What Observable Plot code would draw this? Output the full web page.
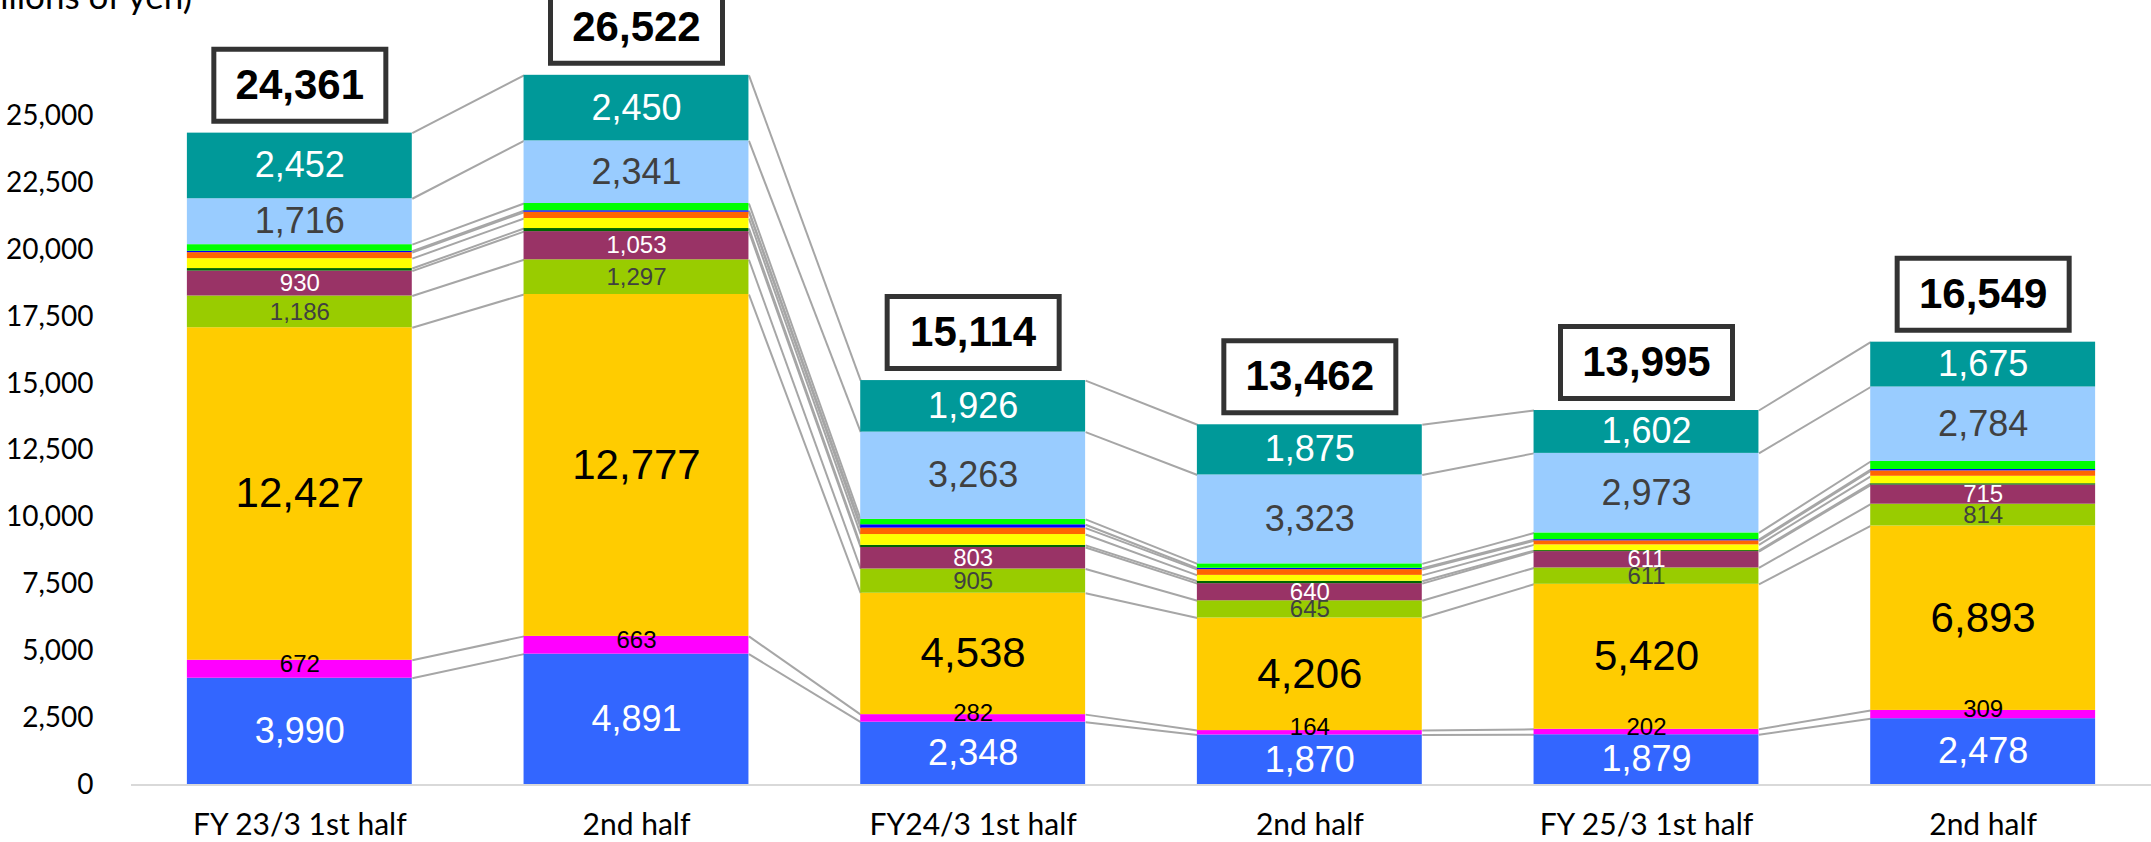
<!DOCTYPE html>
<html>
<head>
<meta charset="utf-8">
<script src="https://cdn.jsdelivr.net/npm/d3@7"></script>
<script src="https://cdn.jsdelivr.net/npm/@observablehq/plot@0.6"></script>
<style>
  html, body { margin: 0; padding: 0; background: #fff; }
  #wrap { position: relative; width: 2151px; height: 842px; overflow: hidden; }
  #unit { position: absolute; right: calc(100% - 192px); top: -22px; font: 35px Lato, sans-serif; line-height: 35px; white-space: nowrap; color: #000; }
  #wrap svg { display: block; }
</style>
</head>
<body>
<div id="wrap"><div id="unit">(100 millions of yen)</div></div>
<script>
// Categories (x-axis tick labels)
const categories = ["FY 23/3 1st half", "2nd half", "FY24/3 1st half", "2nd half", "FY 25/3 1st half", "2nd half"];
// Y-axis ticks
const yTicks = [0, 2500, 5000, 7500, 10000, 12500, 15000, 17500, 20000, 22500, 25000];

// Series values, stacked bottom -> top
const blueVals      = [3990, 4891, 2348, 1870, 1879, 2478];
const magentaVals   = [672, 663, 282, 164, 202, 309];
const goldVals      = [12427, 12777, 4538, 4206, 5420, 6893];
const yGreenVals    = [1186, 1297, 905, 645, 611, 814];
const maroonVals    = [930, 1053, 803, 640, 611, 715];
const darkGreenVals = [95, 115, 79, 89, 37, 50];
const yellowVals    = [370, 375, 405, 220, 214, 278];
const orangeVals    = [225, 235, 240, 215, 152, 203];
const pureBlueVals  = [50, 55, 125, 50, 42, 50];
const greenVals     = [248, 270, 200, 165, 252, 300];
const lightBlueVals = [1716, 2341, 3263, 3323, 2973, 2784];
const tealVals      = [2452, 2450, 1926, 1875, 1602, 1675];
// Totals
const totals = [24361, 26522, 15114, 13462, 13995, 16549];

const seriesList = [
  {values: blueVals,      color: "#3366FF", label: true, labelColor: "#FFFFFF", size: 36},
  {values: magentaVals,   color: "#FF00FF", label: true, labelColor: "#000000", size: 24, raised: true},
  {values: goldVals,      color: "#FFCC00", label: true, labelColor: "#000000", size: 42},
  {values: yGreenVals,    color: "#99CC00", label: true, labelColor: "#404040", size: 24},
  {values: maroonVals,    color: "#993366", label: true, labelColor: "#FFFFFF", size: 24},
  {values: darkGreenVals, color: "#006600", label: false},
  {values: yellowVals,    color: "#FFFF00", label: false},
  {values: orangeVals,    color: "#FF6600", label: false},
  {values: pureBlueVals,  color: "#0000FF", label: false},
  {values: greenVals,     color: "#00FF00", label: false},
  {values: lightBlueVals, color: "#99CCFF", label: true, labelColor: "#404040", size: 36},
  {values: tealVals,      color: "#009999", label: true, labelColor: "#FFFFFF", size: 36}
];

const half = 0.334; // half bar width in category units
const segments = [];
const cum = categories.map(() => []);
categories.forEach((c, i) => {
  let base = 0;
  seriesList.forEach((s, k) => {
    const v = s.values[i];
    segments.push({i, k, y1: base, y2: base + v, value: v, s});
    base += v;
    cum[i].push(base);
  });
});

const links = [];
for (let i = 0; i < categories.length - 1; i++) {
  for (let k = 0; k < seriesList.length; k++) {
    links.push({i, ya: cum[i][k], yb: cum[i + 1][k]});
  }
}

const labelSegs = segments.filter(d => d.s.label && !d.s.raised);
const raisedSegs = segments.filter(d => d.s.label && d.s.raised);
const totalRows = totals.map((t, i) => ({i, t}));

const boxSymbol = {
  draw(ctx) {
    ctx.moveTo(-86, -36);
    ctx.lineTo(86, -36);
    ctx.lineTo(86, 36);
    ctx.lineTo(-86, 36);
    ctx.closePath();
  }
};

const fmt = d3.format(",");
const labelFont = "'Liberation Sans', Arial, sans-serif";
const labelOpts = {
  x: "i", y: d => (d.y1 + d.y2) / 2, text: d => fmt(d.value),
  fill: d => d.s.labelColor, fontSize: d => d.s.size,
  fontFamily: labelFont, lineAnchor: "middle"
};

const chart = Plot.plot({
  width: 2151,
  height: 842,
  marginLeft: 131,
  marginRight: 0,
  marginTop: 8.5,
  marginBottom: 57.5,
  style: {fontFamily: "Lato, sans-serif", background: "white", color: "black"},
  x: {type: "linear", domain: [-0.5, 5.5], axis: null},
  y: {domain: [0, 29000], axis: null},
  color: {type: "identity"},
  marks: [
    Plot.axisY({ticks: yTicks, tickSize: 0, tickPadding: 38, tickFormat: fmt, fontSize: 28, fill: "#000", label: null}),
    Plot.axisX({ticks: categories.map((_, i) => i), tickFormat: i => categories[i], tickSize: 0, tickPadding: 29, fontSize: 30, fill: "#000", label: null}),
    Plot.link(links, {x1: d => d.i + half, y1: "ya", x2: d => d.i + 1 - half, y2: "yb", stroke: "#A6A6A6", strokeWidth: 2}),
    Plot.rect(segments, {x1: d => d.i - half, x2: d => d.i + half, y1: "y1", y2: "y2", fill: d => d.s.color}),
    Plot.ruleY([0], {stroke: "#D9D9D9", strokeWidth: 2}),
    Plot.text(labelSegs, labelOpts),
    Plot.text(raisedSegs, {...labelOpts, dy: -5}),
    Plot.dot(totalRows, {x: "i", y: "t", symbol: boxSymbol, r: 10, dy: -48, fill: "white", stroke: "#333333", strokeWidth: 5}),
    Plot.text(totalRows, {x: "i", y: "t", dy: -48, text: d => fmt(d.t), fontSize: 42, fontWeight: "bold", fill: "#000", fontFamily: labelFont, lineAnchor: "middle"})
  ]
});
document.getElementById("wrap").appendChild(chart);
</script>
</body>
</html>
